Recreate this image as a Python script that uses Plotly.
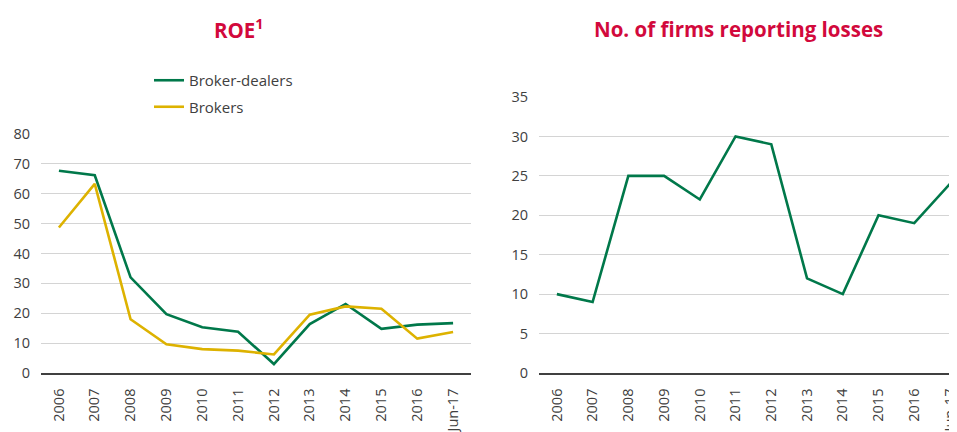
import plotly.graph_objects as go

categories = ["2006", "2007", "2008", "2009", "2010", "2011", "2012", "2013", "2014", "2015", "2016", "Jun-17"]
roe_broker_dealers = [67.7, 66.2, 32.0, 19.7, 15.3, 13.8, 3.0, 16.4, 23.1, 14.8, 16.2, 16.7]
roe_brokers = [48.7, 63.3, 18.0, 9.6, 8.0, 7.5, 6.2, 19.5, 22.3, 21.5, 11.5, 13.7]
firms_losses = [10, 9, 25, 25, 22, 30, 29, 12, 10, 20, 19, 24]

GREEN = "#00784A"
YELLOW = "#DDB200"
TITLE = "#D2093C"
TEXT = "#404040"
GRID = "#D4D4D4"
FONT = "Open Sans"
W, H = 957, 432
OFF = 8  # page body margin offset

def px_x(v):
    return (v - OFF) / W

def px_y(v):
    return 1 - (v - OFF) / H

fig = go.Figure()
fig.add_trace(go.Scatter(x=categories, y=roe_broker_dealers, mode="lines", name="Broker-dealers",
                         legendgroup="bd", line=dict(color=GREEN, width=2.6), xaxis="x", yaxis="y"))
fig.add_trace(go.Scatter(x=categories, y=roe_brokers, mode="lines", name="Brokers",
                         legendgroup="b", line=dict(color=YELLOW, width=2.6), xaxis="x", yaxis="y"))
fig.add_trace(go.Scatter(x=categories, y=firms_losses, mode="lines", name="Firms",
                         line=dict(color=GREEN, width=2.6), xaxis="x2", yaxis="y2", showlegend=False))

xcommon = dict(type="category", tickangle=-90, showgrid=False, showline=True, linecolor=TEXT,
               linewidth=1.5, ticks="", tickfont=dict(family=FONT, size=14.5, color=TEXT),
               ticklabelstandoff=8, automargin=False, ticklabeloverflow="allow", fixedrange=True)
ycommon = dict(showgrid=True, gridcolor=GRID, gridwidth=1.3, zeroline=False, showline=False, ticks="",
               tickfont=dict(family=FONT, size=14.5, color=TEXT), ticklabelstandoff=10,
               automargin=False, ticklabeloverflow="allow")

fig.update_layout(
    width=W, height=H,
    margin=dict(l=0, r=0, t=0, b=0, autoexpand=False),
    paper_bgcolor="white", plot_bgcolor="white",
    font=dict(family=FONT, color=TEXT),
    xaxis=dict(xcommon, domain=[px_x(41), px_x(471)], range=[-0.5, 11.5], anchor="y"),
    yaxis=dict(ycommon, domain=[px_y(373), px_y(134)], range=[0, 80], dtick=10, anchor="x"),
    xaxis2=dict(xcommon, domain=[px_x(539), 1.0], range=[-0.5, 11.42], anchor="y2"),
    yaxis2=dict(ycommon, domain=[px_y(373), px_y(97)], range=[0, 35], dtick=5, anchor="x2"),
    legend=dict(x=px_x(149), y=px_y(64), xanchor="left", yanchor="top",
                font=dict(family=FONT, size=15, color=TEXT), bgcolor="rgba(0,0,0,0)",
                tracegroupgap=4),
    annotations=[
        dict(text="<b>ROE<sup>1</sup></b>", x=px_x(239), y=px_y(29), xref="paper", yref="paper",
             showarrow=False, font=dict(family=FONT, size=20.5, color=TITLE), xanchor="center", yanchor="middle"),
        dict(text="<b>No. of firms reporting losses</b>", x=px_x(738), y=px_y(29), xref="paper", yref="paper",
             showarrow=False, font=dict(family=FONT, size=20.5, color=TITLE), xanchor="center", yanchor="middle"),
    ],
)

fig.write_html("out.html")
